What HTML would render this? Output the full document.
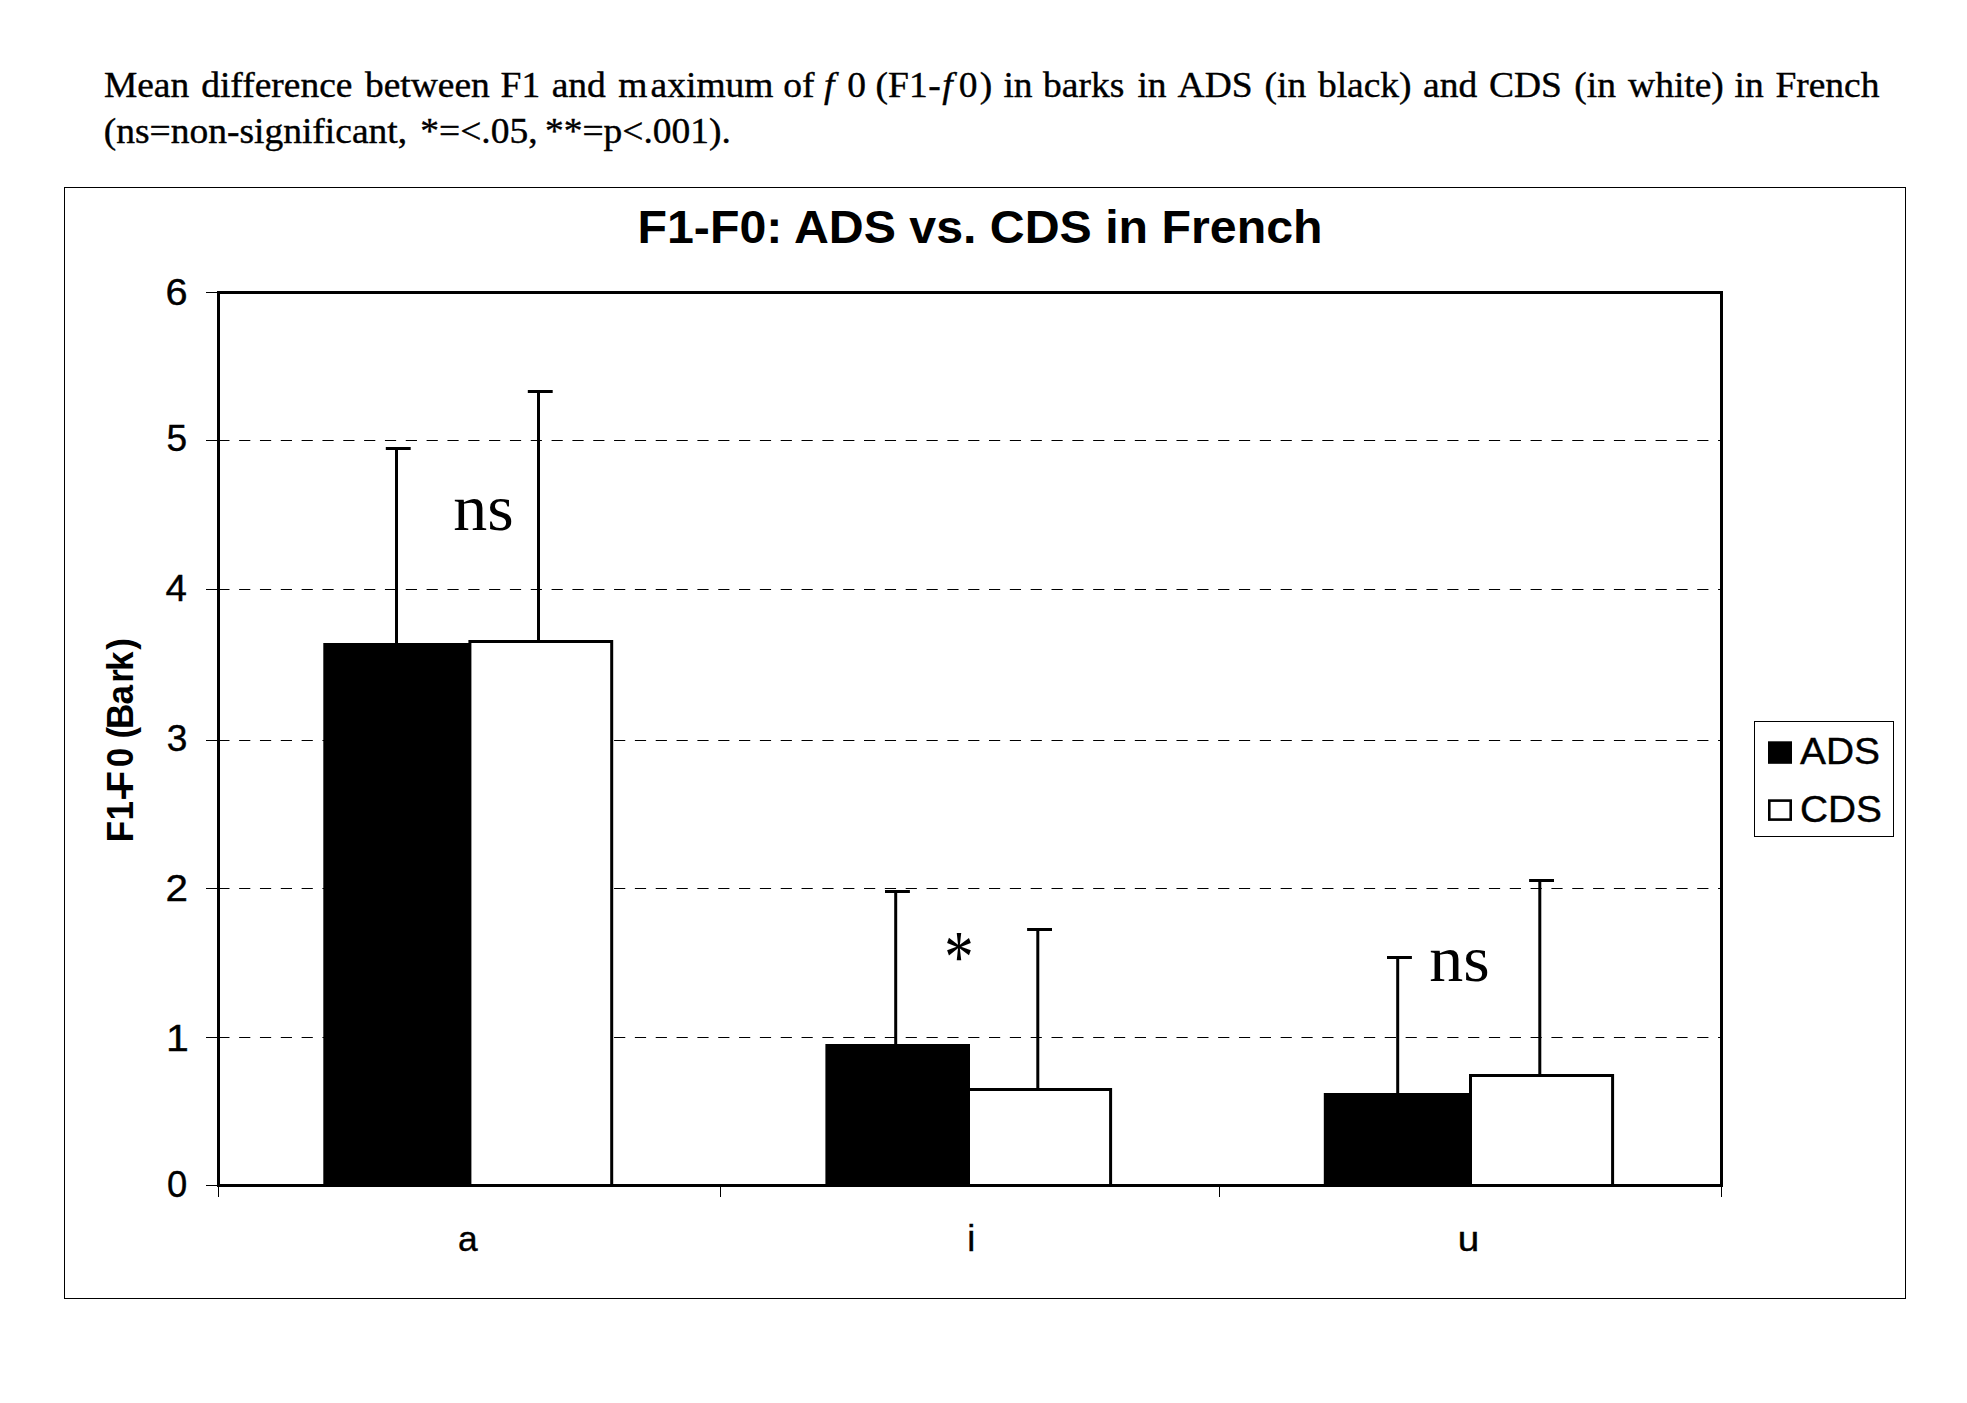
<!DOCTYPE html>
<html lang="en"><head><meta charset="utf-8"><title>F1-F0: ADS vs. CDS in French</title>
<style>
html,body{margin:0;padding:0;background:#fff;}
svg{display:block;}
.serif{font-family:"Liberation Serif",serif;}
.sans{font-family:"Liberation Sans",sans-serif;}
</style></head><body>
<svg width="1967" height="1403" viewBox="0 0 1967 1403">
<rect width="1967" height="1403" fill="#fff"/>
<text class="serif" transform="scale(1,0.962)" y="100.42" font-size="37.5" fill="#000" stroke="#000" stroke-width="0.4"><tspan x="103.9">Mean </tspan><tspan x="201.2">difference </tspan><tspan x="364.9">between </tspan><tspan x="500.6">F1 </tspan><tspan x="551.7">and </tspan><tspan x="618.3">m</tspan><tspan x="650.6">aximum </tspan><tspan x="783.2">of </tspan><tspan x="824.1" font-style="italic">f</tspan><tspan x="847.2">0 </tspan><tspan x="875.6">(F1</tspan><tspan x="928.2">-</tspan><tspan x="942.2" font-style="italic">f</tspan><tspan x="958.8">0</tspan><tspan x="979.7">) </tspan><tspan x="1003.4">in </tspan><tspan x="1043.1">barks </tspan><tspan x="1137.4">in </tspan><tspan x="1177.6">ADS </tspan><tspan x="1264.6">(in </tspan><tspan x="1317.9">black) </tspan><tspan x="1423.0">and </tspan><tspan x="1489.0">CDS </tspan><tspan x="1574.3">(in </tspan><tspan x="1628.1">white) </tspan><tspan x="1734.5">in </tspan><tspan x="1775.4">French</tspan></text>
<text class="serif" transform="scale(1,0.962)" y="148.65" font-size="37.5" fill="#000" stroke="#000" stroke-width="0.4"><tspan x="103.8">(ns=non-significant, </tspan><tspan x="420.3">*=&lt;.05, </tspan><tspan x="545.0">**=p&lt;.001).</tspan></text>
<rect x="64.5" y="187.5" width="1841" height="1111" fill="none" stroke="#000" stroke-width="1"/>
<text class="sans" x="980" y="243" font-size="45.5" font-weight="bold" text-anchor="middle" textLength="685" lengthAdjust="spacingAndGlyphs">F1-F0: ADS vs. CDS in French</text>
<line x1="218.3" x2="1720" y1="1037.5" y2="1037.5" stroke="#000" stroke-width="1" stroke-dasharray="11.2 9.63"/>
<line x1="218.3" x2="1720" y1="888.5" y2="888.5" stroke="#000" stroke-width="1" stroke-dasharray="11.2 9.63"/>
<line x1="218.3" x2="1720" y1="740.5" y2="740.5" stroke="#000" stroke-width="1" stroke-dasharray="11.2 9.63"/>
<line x1="218.3" x2="1720" y1="589.5" y2="589.5" stroke="#000" stroke-width="1" stroke-dasharray="11.2 9.63"/>
<line x1="218.3" x2="1720" y1="440.5" y2="440.5" stroke="#000" stroke-width="1" stroke-dasharray="11.2 9.63"/>
<line x1="206" x2="218" y1="1185.5" y2="1185.5" stroke="#000" stroke-width="1"/>
<text class="sans" transform="translate(166.88,1196.7) scale(0.976,1)" font-size="37.3" stroke="#000" stroke-width="0.4">0</text>
<line x1="206" x2="218" y1="1037.5" y2="1037.5" stroke="#000" stroke-width="1"/>
<text class="sans" transform="translate(166.05,1050.9) scale(1.100,1)" font-size="37.3" stroke="#000" stroke-width="0.4">1</text>
<line x1="206" x2="218" y1="888.5" y2="888.5" stroke="#000" stroke-width="1"/>
<text class="sans" transform="translate(165.38,900.9) scale(1.082,1)" font-size="37.3" stroke="#000" stroke-width="0.4">2</text>
<line x1="206" x2="218" y1="740.5" y2="740.5" stroke="#000" stroke-width="1"/>
<text class="sans" transform="translate(166.69,750.7) scale(0.995,1)" font-size="37.3" stroke="#000" stroke-width="0.4">3</text>
<line x1="206" x2="218" y1="589.5" y2="589.5" stroke="#000" stroke-width="1"/>
<text class="sans" transform="translate(165.41,601.0) scale(1.032,1)" font-size="37.3" stroke="#000" stroke-width="0.4">4</text>
<line x1="206" x2="218" y1="440.5" y2="440.5" stroke="#000" stroke-width="1"/>
<text class="sans" transform="translate(166.61,450.6) scale(0.995,1)" font-size="37.3" stroke="#000" stroke-width="0.4">5</text>
<line x1="206" x2="218" y1="292.5" y2="292.5" stroke="#000" stroke-width="1"/>
<text class="sans" transform="translate(165.38,304.8) scale(1.064,1)" font-size="37.3" stroke="#000" stroke-width="0.4">6</text>
<line x1="218.5" x2="218.5" y1="1186" y2="1197" stroke="#000" stroke-width="1"/>
<line x1="720.5" x2="720.5" y1="1186" y2="1197" stroke="#000" stroke-width="1"/>
<line x1="1219.5" x2="1219.5" y1="1186" y2="1197" stroke="#000" stroke-width="1"/>
<line x1="1721.5" x2="1721.5" y1="1186" y2="1197" stroke="#000" stroke-width="1"/>
<rect x="323.3" y="643.0" width="147.2" height="543.0" fill="#000"/>
<rect x="469.9" y="641.5" width="141.8" height="544.0" fill="#fff" stroke="#000" stroke-width="3"/>
<line x1="396.5" x2="396.5" y1="448.5" y2="643.0" stroke="#000" stroke-width="3"/>
<line x1="385.8" x2="410.7" y1="448.5" y2="448.5" stroke="#000" stroke-width="3"/>
<line x1="538.5" x2="538.5" y1="391.5" y2="641.5" stroke="#000" stroke-width="3"/>
<line x1="527.8" x2="552.7" y1="391.5" y2="391.5" stroke="#000" stroke-width="3"/>
<rect x="825.4" y="1044.0" width="144.6" height="142.0" fill="#000"/>
<rect x="968.5" y="1089.5" width="142.1" height="96.0" fill="#fff" stroke="#000" stroke-width="3"/>
<line x1="895.7" x2="895.7" y1="891.5" y2="1044.0" stroke="#000" stroke-width="3"/>
<line x1="885.0" x2="909.9" y1="891.5" y2="891.5" stroke="#000" stroke-width="3"/>
<line x1="1037.8" x2="1037.8" y1="929.5" y2="1089.5" stroke="#000" stroke-width="3"/>
<line x1="1027.1" x2="1052.0" y1="929.5" y2="929.5" stroke="#000" stroke-width="3"/>
<rect x="1323.8" y="1093.0" width="146.2" height="93.0" fill="#000"/>
<rect x="1470.5" y="1075.5" width="142.1" height="110.0" fill="#fff" stroke="#000" stroke-width="3"/>
<line x1="1397.7" x2="1397.7" y1="957.5" y2="1093.0" stroke="#000" stroke-width="3"/>
<line x1="1387.0" x2="1411.9" y1="957.5" y2="957.5" stroke="#000" stroke-width="3"/>
<line x1="1539.8" x2="1539.8" y1="880.5" y2="1075.5" stroke="#000" stroke-width="3"/>
<line x1="1529.1" x2="1554.0" y1="880.5" y2="880.5" stroke="#000" stroke-width="3"/>
<rect x="218.5" y="292.5" width="1503" height="893" fill="none" stroke="#000" stroke-width="3"/>
<text class="serif" transform="translate(453.3,530.2) scale(1,0.97)" font-size="68">ns</text>
<text class="serif" transform="translate(958.9,947.5) scale(0.89,1.12)" x="-16.5" y="31" font-size="66">*</text>
<text class="serif" transform="translate(1429.2,980.6) scale(1,0.97)" font-size="68">ns</text>
<text class="sans" transform="translate(467.8,1250.6) scale(0.98,1)" font-size="36" text-anchor="middle" stroke="#000" stroke-width="0.4">a</text>
<text class="sans" transform="translate(971.3,1250.6) scale(1.0,1)" font-size="36" text-anchor="middle" stroke="#000" stroke-width="0.4">i</text>
<text class="sans" transform="translate(1468.5,1250.6) scale(1.075,1)" font-size="36" text-anchor="middle" stroke="#000" stroke-width="0.4">u</text>
<text class="sans" font-size="35" font-weight="bold" transform="translate(133,840) rotate(-90) scale(1,1.042)" x="-2.35 19.5 39.8 47.45 72.7 92 101.45 111.05 135.5 157.3 169.05 190.3" y="0">F1-F0 (Bark)</text>
<rect x="1754.5" y="721.5" width="139" height="115" fill="#fff" stroke="#000" stroke-width="1"/>
<rect x="1768" y="741.3" width="24" height="22.5" fill="#000"/>
<rect x="1769.3" y="800.6" width="21.4" height="19" fill="#fff" stroke="#000" stroke-width="2.6"/>
<text class="sans" x="1800" y="764" font-size="37.8" stroke="#000" stroke-width="0.4" textLength="80" lengthAdjust="spacingAndGlyphs">ADS</text>
<text class="sans" x="1800" y="821.5" font-size="37.8" stroke="#000" stroke-width="0.4" textLength="82" lengthAdjust="spacingAndGlyphs">CDS</text>
</svg>
</body></html>
